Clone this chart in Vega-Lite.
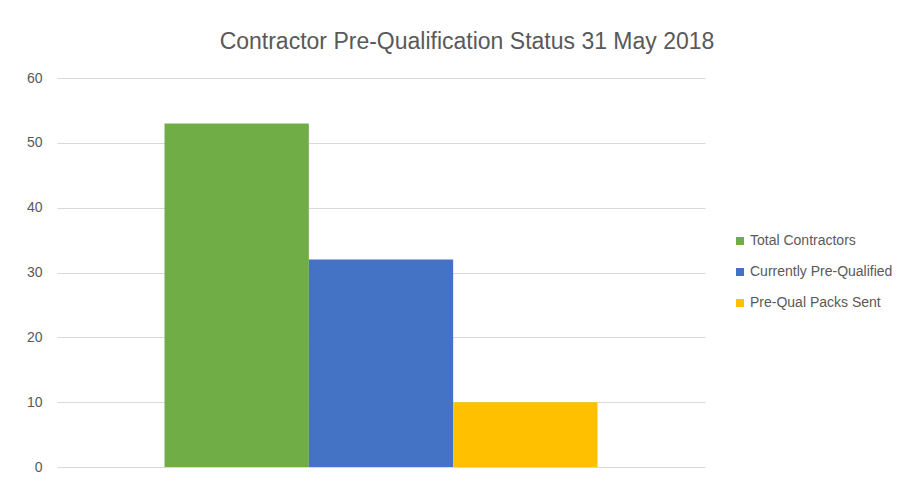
{
  "$schema": "https://vega.github.io/schema/vega-lite/v6.json",
  "autosize": "none",
  "width": 648,
  "height": 389,
  "padding": {"left": 57, "top": 78, "right": 211, "bottom": 14},
  "background": "white",
  "title": {
    "text": "Contractor Pre-Qualification Status 31 May 2018",
    "anchor": "middle",
    "frame": "group",
    "dx": 86,
    "offset": 17,
    "font": "Liberation Sans",
    "fontSize": 23,
    "fontWeight": "normal",
    "color": "#595959"
  },
  "data": {
    "values": [
      {"series": "Total Contractors", "value": 53},
      {"series": "Currently Pre-Qualified", "value": 32},
      {"series": "Pre-Qual Packs Sent", "value": 10}
    ]
  },
  "mark": {"type": "bar"},
  "encoding": {
    "x": {
      "field": "series",
      "type": "nominal",
      "sort": ["Total Contractors", "Currently Pre-Qualified", "Pre-Qual Packs Sent"],
      "scale": {"paddingInner": 0, "paddingOuter": 0.745},
      "axis": null
    },
    "y": {
      "field": "value",
      "type": "quantitative",
      "scale": {"domain": [0, 60]},
      "axis": {
        "values": [0, 10, 20, 30, 40, 50, 60],
        "title": null,
        "domain": false,
        "ticks": false,
        "grid": true,
        "gridColor": "#D9D9D9",
        "gridWidth": 1,
        "labelColor": "#595959",
        "labelFont": "Liberation Sans",
        "labelFontSize": 14,
        "labelPadding": 15
      }
    },
    "color": {
      "field": "series",
      "type": "nominal",
      "sort": ["Total Contractors", "Currently Pre-Qualified", "Pre-Qual Packs Sent"],
      "scale": {
        "domain": ["Total Contractors", "Currently Pre-Qualified", "Pre-Qual Packs Sent"],
        "range": ["#70AD47", "#4472C4", "#FFC000"]
      },
      "legend": {
        "title": null,
        "orient": "none",
        "legendX": 676,
        "legendY": 156,
        "symbolType": "square",
        "symbolSize": 64,
        "symbolStrokeWidth": 0,
        "labelColor": "#595959",
        "labelFont": "Liberation Sans",
        "labelFontSize": 14,
        "labelOffset": 3,
        "rowPadding": 17
      }
    }
  },
  "config": {"view": {"stroke": null}}
}
